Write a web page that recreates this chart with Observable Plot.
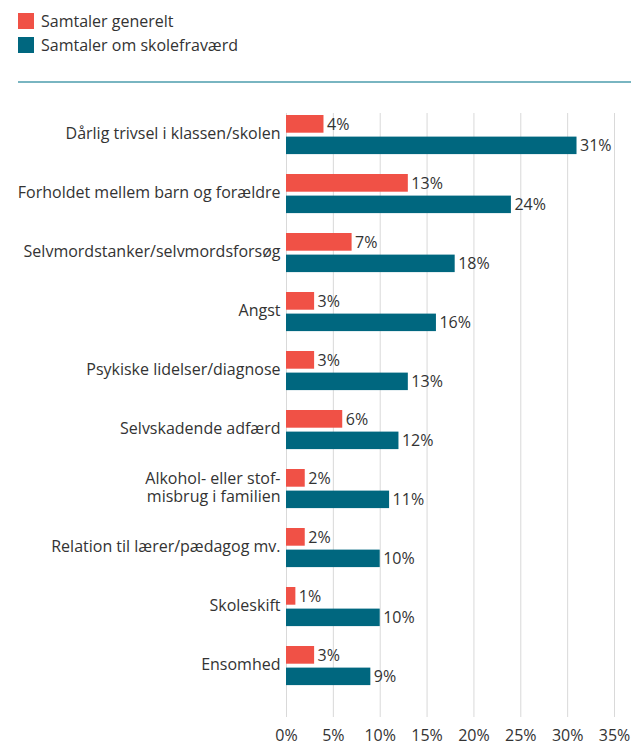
<!DOCTYPE html>
<html><head><meta charset="utf-8">
<script src="https://cdn.jsdelivr.net/npm/d3@7"></script>
<script src="https://cdn.jsdelivr.net/npm/@observablehq/plot@0.6"></script>
<style>
body{margin:0;background:#fff;font-family:"Open Sans",sans-serif;color:#333}
#legend{position:relative;height:90px;width:631px}
.item{position:absolute;left:18px;display:flex;align-items:center;font-size:16px;height:16px;white-space:nowrap}
.sw{width:16px;height:16px;margin-right:7px;flex:none}
#rule{position:absolute;left:18px;right:0;top:81px;height:1.5px;background:#79b5c1}
</style></head><body>
<div id="legend"><div id="rule"></div></div>
<div id="chart"></div>
<script>
const categories = [
  "Dårlig trivsel i klassen/skolen",
  "Forholdet mellem barn og forældre",
  "Selvmordstanker/selvmordsforsøg",
  "Angst",
  "Psykiske lidelser/diagnose",
  "Selvskadende adfærd",
  "Alkohol- eller stof-\nmisbrug i familien",
  "Relation til lærer/pædagog mv.",
  "Skoleskift",
  "Ensomhed"
];
const seriesNames = ["Samtaler generelt", "Samtaler om skolefraværd"];
const generelt = [4, 13, 7, 3, 3, 6, 2, 2, 1, 3];
const skolefravaer = [31, 24, 18, 16, 13, 12, 11, 10, 10, 9];
const xTicks = [0, 5, 10, 15, 20, 25, 30, 35];
const colors = ["#f05146", "#00677f"];

// legend
const legend = document.getElementById("legend");
seriesNames.forEach((name, i) => {
  const it = document.createElement("div");
  it.className = "item";
  it.style.top = (13 + i * 24) + "px";
  const sw = document.createElement("div");
  sw.className = "sw";
  sw.style.background = colors[i];
  const tx = document.createElement("span");
  tx.textContent = name;
  it.appendChild(sw); it.appendChild(tx);
  legend.appendChild(it);
});

const rows0 = categories.map((c, i) => ({cat: c, value: generelt[i]}));
const rows1 = categories.map((c, i) => ({cat: c, value: skolefravaer[i]}));

const chart = Plot.plot({
  width: 631,
  height: 656,
  marginLeft: 286,
  marginRight: 17,
  marginTop: 23,
  marginBottom: 29,
  style: {fontFamily: "'Open Sans', sans-serif", fontSize: "16px", color: "#333", background: "#fff"},
  x: {domain: [0, 35], ticks: xTicks, tickFormat: d => d + "%", tickSize: 0, tickPadding: 12, label: null},
  y: {domain: categories, range: [14.1, 606.9], padding: 0, axis: null},
  marks: [
    Plot.ruleX(xTicks, {stroke: "#d9d9d9", strokeWidth: 1}),
    Plot.barX(rows0, {x: "value", y: "cat", fill: colors[0], insetTop: 10, insetBottom: 31.3}),
    Plot.barX(rows1, {x: "value", y: "cat", fill: colors[1], insetTop: 31.6, insetBottom: 9.9}),
    Plot.text(rows0, {x: "value", y: "cat", text: d => d.value + "%", textAnchor: "start", dx: 3, dy: -10.6, fill: "#333", fontSize: 16}),
    Plot.text(rows1, {x: "value", y: "cat", text: d => d.value + "%", textAnchor: "start", dx: 3, dy: 10.9, fill: "#333", fontSize: 16}),
    Plot.text(categories, {y: d => d, frameAnchor: "left", text: d => d, textAnchor: "end", dx: -6, dy: -1.5, lineHeight: 1.125, fill: "#333", fontSize: 16})
  ]
});
document.getElementById("chart").appendChild(chart);
</script>
</body></html>
